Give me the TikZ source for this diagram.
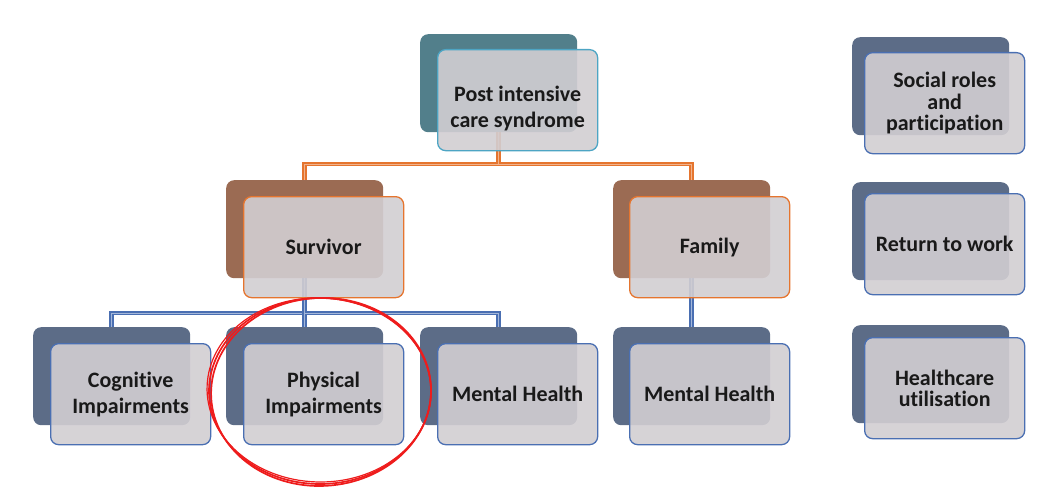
\documentclass[tikz,border=0pt]{standalone}
\usepackage{fontspec}
\setmainfont[Ligatures=NoCommon]{Carlito}
\definecolor{tealback}{HTML}{527F8B}
\definecolor{tealline}{HTML}{4DA5C4}
\definecolor{brownback}{HTML}{9B6B53}
\definecolor{orangeline}{HTML}{E5752F}
\definecolor{slateback}{HTML}{5C6C87}
\definecolor{blueline}{HTML}{4A6FB2}
\definecolor{frontfill}{HTML}{D2CED2}
\definecolor{circlered}{HTML}{EE1C1C}
\begin{document}
\begin{tikzpicture}[x=1pt,y=-1pt,
  backbox/.style={rounded corners=8pt, inner sep=0pt, anchor=north west, minimum width=157pt, minimum height=98pt},
  frontbox/.style={rounded corners=8pt, inner sep=0pt, anchor=north west, fill=frontfill, fill opacity=0.9, text opacity=1, line width=1.3pt, minimum width=160pt, minimum height=101pt, align=center, font=\bfseries\fontsize{22}{26}\selectfont, text=black!90},
  txt/.style={align=center, font=\bfseries\fontsize{22}{26}\selectfont, text=black!90},
  orangeconn/.style={draw=orangeline, line width=2.1pt, double=orangeline!55!white, double distance=0.7pt},
  blueconn/.style={draw=blueline, line width=2.1pt, double=blueline!50!white, double distance=0.7pt},
  ring/.style={draw=circlered, line width=1.7pt}
]
\useasboundingbox (0,0) rectangle (1048,500);
% back boxes
\node[backbox, fill=tealback] (topb) at (420,34) {};
\node[backbox, fill=brownback] (survb) at (226,180) {};
\node[backbox, fill=brownback] (famb) at (613,180) {};
\node[backbox, fill=slateback] (cogb) at (33,327) {};
\node[backbox, fill=slateback] (physb) at (226,327) {};
\node[backbox, fill=slateback] (mentb) at (420,327) {};
\node[backbox, fill=slateback] (fmentb) at (613,327) {};
\node[backbox, fill=slateback] (socb) at (852,37) {};
\node[backbox, fill=slateback] (workb) at (852,182) {};
\node[backbox, fill=slateback] (careb) at (852,325) {};
% bus levels
\coordinate (obus) at (0,164);
\coordinate (bbus) at (0,313);
% connectors
\draw[orangeconn] (topb.south) -- (topb.south |- obus) -| (survb.north);
\draw[orangeconn] (topb.south |- obus) -| (famb.north);
\draw[blueconn] (survb.south) -- (survb.south |- bbus) -| (cogb.north);
\draw[blueconn] (survb.south |- bbus) -- (physb.north);
\draw[blueconn] (survb.south |- bbus) -| (mentb.north);
\draw[blueconn] (famb.south) -- (fmentb.north);
% front boxes
\node[frontbox, draw=tealline] (top) at (437,49) {};
\node[txt] (toptext) at ([yshift=-8pt]top.center) {Post intensive\\care syndrome};
\node[frontbox, draw=orangeline] (surv) at (243,196) {Survivor};
\node[frontbox, draw=orangeline] (fam) at (629,196) {Family};
\node[frontbox, draw=blueline] (cog) at (50,343) {Cognitive\\Impairments};
\node[frontbox, draw=blueline] (phys) at (243,343) {Physical\\Impairments};
\node[frontbox, draw=blueline] (ment) at (437,343) {Mental Health};
\node[frontbox, draw=blueline] (fment) at (629,343) {Mental Health};
\node[frontbox, draw=blueline, font=\bfseries\fontsize{22}{21.5}\selectfont] (soc) at (864,52) {Social roles\\and\\participation};
\node[frontbox, draw=blueline] (work) at (864,193) {Return to work};
\node[frontbox, draw=blueline, font=\bfseries\fontsize{22}{21.5}\selectfont] (care) at (864,337) {Healthcare\\utilisation};
% red hand-drawn ring
\draw[ring] (320,391) ellipse [x radius=111pt, y radius=93pt];
\draw[ring, rotate around={3:(320,391)}] (321,392) ellipse [x radius=110pt, y radius=94pt];
\draw[ring, line width=1.2pt, rotate around={-2:(320,391)}] (319,390) ellipse [x radius=112pt, y radius=92pt];
\end{tikzpicture}
\end{document}
